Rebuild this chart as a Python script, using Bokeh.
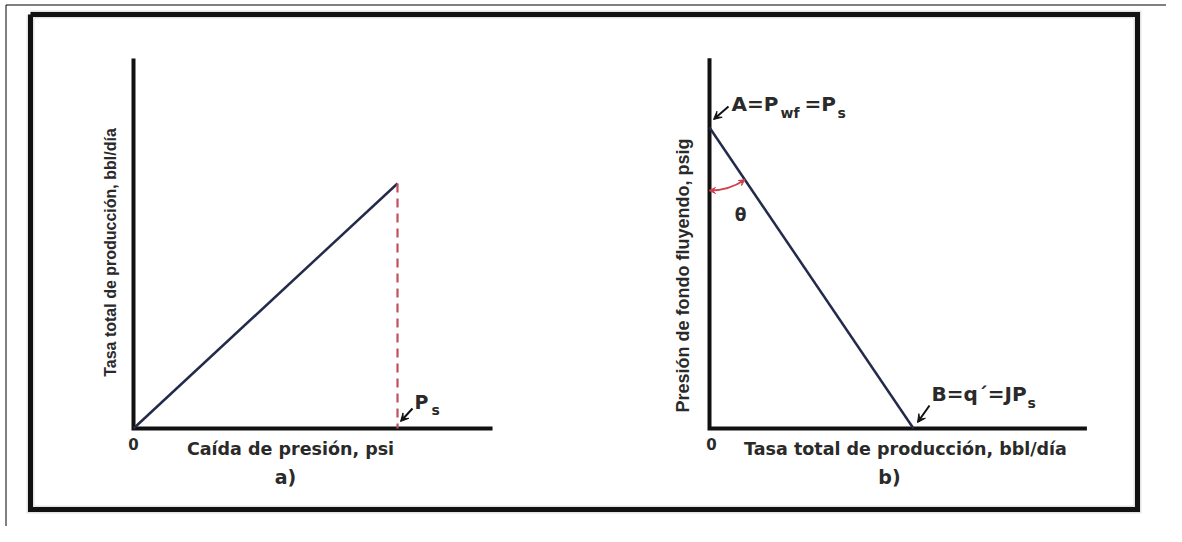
import math
from bokeh.plotting import figure
from bokeh.models import Range1d, Arrow, VeeHead
from bokeh.core.properties import value
from bokeh.embed import file_html
from bokeh.resources import INLINE

# ---------------- data (schematic, normalised units) ----------------
# a) Tasa total de producción vs caída de presión
caida_a = [0.0, 1.0]          # caída de presión 0 .. Ps
tasa_a = [0.0, 1.0]           # tasa total de producción
ps_x = [1.0, 1.0]             # línea punteada en Ps
ps_y = [1.0, 0.0]
axis_a = [1.36, 1.51]         # extensión de los ejes (x, y)

# b) IPR: presión de fondo fluyendo vs tasa total
tasa_b = [0.0, 1.0]           # 0 .. q' = J Ps
pwf_b = [1.0, 0.0]            # Ps .. 0
axis_b = [1.85, 1.23]

xlabel_a = "Caída de presión, psi"
ylabel_a = "Tasa total de producción, bbl/día"
xlabel_b = "Tasa total de producción, bbl/día"
ylabel_b = "Presión de fondo fluyendo, psig"

# ---------------- canvas ----------------
W, H = 1166, 526
X0, Y0 = 0, 0
p = figure(width=W, height=H, x_range=Range1d(X0, X0 + W), y_range=Range1d(Y0 + H, Y0),
           output_backend="svg", toolbar_location=None, min_border=0,
           x_axis_location=None, y_axis_location=None)
p.grid.visible = False
p.outline_line_color = None
p.background_fill_color = "white"
p.border_fill_color = "white"


def lin(v0, p0, v1, p1):
    return lambda px: v0 + (px - p0) * (v1 - v0) / (p1 - p0)


# panel scales: value 0 -> origin, value 1 -> Ps / end of the line
fxa, fya = lin(0, 133, 1, 397), lin(0, 428, 1, 183)
fxb, fyb = lin(0, 709, 1, 913), lin(0, 428, 1, 127)
p.extra_x_ranges = {"ax": Range1d(fxa(X0), fxa(X0 + W)), "bx": Range1d(fxb(X0), fxb(X0 + W))}
p.extra_y_ranges = {"ay": Range1d(fya(Y0 + H), fya(Y0)), "by": Range1d(fyb(Y0 + H), fyb(Y0))}

FB = value("DejaVu Sans")
FL = value("Liberation Sans")
TXT = "#2a2a2a"

# ---------------- frames ----------------
fx = [30, 1137, 1137, 30, 30]
fy = [14, 14, 509, 509, 14]
p.line(fx, fy, line_color="#b0b0b0", line_width=8, line_alpha=0.35, line_join="miter")
p.line(fx, fy, line_color="#111111", line_width=5, line_join="miter")
p.line([5.5, 5.5, 1165.5], [526, 4.5, 4.5], line_color="#000000", line_width=1)

# ---------------- panel a ----------------
p.line([0, 0, axis_a[0]], [axis_a[1], 0, 0], x_range_name="ax", y_range_name="ay",
       line_color="#111111", line_width=4, line_join="miter")
p.line(caida_a, tasa_a, x_range_name="ax", y_range_name="ay",
       line_color="#232a4a", line_width=2.5)
p.line(ps_x, ps_y, x_range_name="ax", y_range_name="ay",
       line_color="#c0505e", line_width=2.2, line_dash="9 6")

p.text(x=[110], y=[252], text=[ylabel_a], angle=math.pi / 2, text_font=FL, text_font_style="bold",
       text_font_size="16px", text_color=TXT, text_align="center", text_baseline="middle")
p.text(x=[290], y=[448], text=[xlabel_a], text_font=FB, text_font_style="bold",
       text_font_size="17.5px", text_color=TXT, text_align="center", text_baseline="middle")
p.text(x=[133], y=[443], text=["0"], text_font=FB, text_font_style="bold",
       text_font_size="15px", text_color=TXT, text_align="center", text_baseline="middle")
p.text(x=[285], y=[476], text=["a)"], text_font=FB, text_font_style="bold",
       text_font_size="19px", text_color=TXT, text_align="center", text_baseline="middle")
p.text(x=[414], y=[401], text=["P"], text_font=FB, text_font_style="bold",
       text_font_size="19px", text_color=TXT, text_align="left", text_baseline="middle")
p.text(x=[431], y=[409], text=["s"], text_font=FB, text_font_style="bold",
       text_font_size="14px", text_color=TXT, text_align="left", text_baseline="middle")
p.add_layout(Arrow(end=VeeHead(size=8, fill_color="#111111", line_color="#111111"),
                   x_start=412, y_start=408, x_end=400, y_end=421,
                   line_color="#111111", line_width=2))

# ---------------- panel b ----------------
p.line([0, 0, axis_b[0]], [axis_b[1], 0, 0], x_range_name="bx", y_range_name="by",
       line_color="#111111", line_width=4, line_join="miter")
p.line(tasa_b, pwf_b, x_range_name="bx", y_range_name="by",
       line_color="#232a4a", line_width=2.5)

p.text(x=[682], y=[275], text=[ylabel_b], angle=math.pi / 2, text_font=FL, text_font_style="bold",
       text_font_size="18px", text_color=TXT, text_align="center", text_baseline="middle")
p.text(x=[905], y=[448], text=[xlabel_b], text_font=FB, text_font_style="bold",
       text_font_size="17.5px", text_color=TXT, text_align="center", text_baseline="middle")
p.text(x=[711], y=[443], text=["0"], text_font=FB, text_font_style="bold",
       text_font_size="15px", text_color=TXT, text_align="center", text_baseline="middle")
p.text(x=[889], y=[476], text=["b)"], text_font=FB, text_font_style="bold",
       text_font_size="19px", text_color=TXT, text_align="center", text_baseline="middle")

# A = P_wf = P_s
big = dict(text_font=FB, text_font_style="bold", text_font_size="20px", text_color=TXT,
           text_align="left", text_baseline="middle")
small = dict(text_font=FB, text_font_style="bold", text_font_size="14px", text_color=TXT,
             text_align="left", text_baseline="middle")
p.text(x=[731], y=[103], text=["A=P"], **big)
p.text(x=[780], y=[112], text=["wf"], **small)
p.text(x=[804], y=[103], text=["=P"], **big)
p.text(x=[837], y=[112], text=["s"], **small)
p.add_layout(Arrow(end=VeeHead(size=8, fill_color="#111111", line_color="#111111"),
                   x_start=728, y_start=106, x_end=713, y_end=119,
                   line_color="#111111", line_width=2))

# B = q' = J P_s
p.text(x=[931], y=[393], text=["B=q´=JP"], **big)
p.text(x=[1027], y=[402], text=["s"], **small)
p.add_layout(Arrow(end=VeeHead(size=8, fill_color="#111111", line_color="#111111"),
                   x_start=929, y_start=405, x_end=917, y_end=422,
                   line_color="#111111", line_width=2))

# theta arc between the pressure axis and the IPR line
R = 63
th_line = math.atan2(-(428 - 127), 913 - 709)
p.arc(x=[0], y=[pwf_b[0]], radius=R, radius_units="screen", start_angle=-math.pi / 2,
      end_angle=th_line, direction="anticlock", x_range_name="bx", y_range_name="by",
      line_color="#d0404c", line_width=1.8)
cx, cy = 709, 127
for th, sgn in ((th_line, 1), (-math.pi / 2, -1)):
    ex, ey = cx + R * math.cos(th), cy - R * math.sin(th)
    dx, dy = -math.sin(th) * sgn, -math.cos(th) * sgn
    p.add_layout(Arrow(end=VeeHead(size=6, fill_color="#d0404c", line_color="#d0404c"),
                       x_start=ex - 5 * dx, y_start=ey - 5 * dy, x_end=ex, y_end=ey,
                       line_color="#d0404c", line_width=1.5))
p.text(x=[740], y=[214], text=["θ"], text_font=FB, text_font_style="bold",
       text_font_size="17px", text_color=TXT, text_align="center", text_baseline="middle")

open("out.html", "w").write(file_html(p, INLINE))
